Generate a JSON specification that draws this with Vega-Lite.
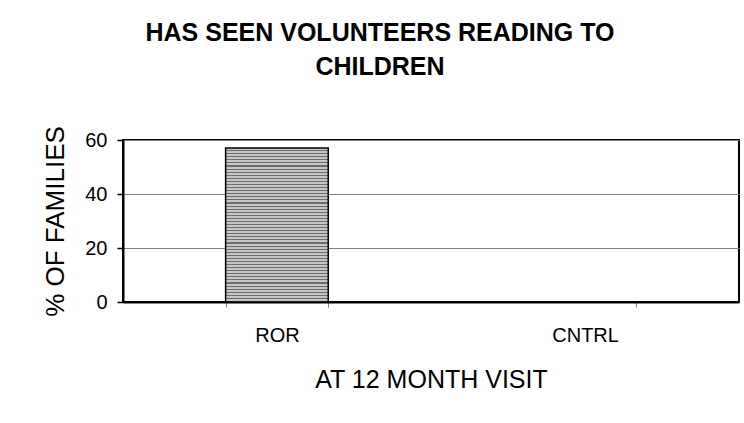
{
  "$schema": "https://vega.github.io/schema/vega-lite/v6.json",
  "width": 616,
  "height": 162,
  "autosize": {"type": "none"},
  "padding": {"left": 123, "top": 140, "right": 5, "bottom": 121},
  "background": "white",
  "config": {
    "font": "Liberation Sans",
    "view": {"stroke": "black", "strokeWidth": 2}
  },
  "title": {
    "text": ["HAS SEEN VOLUNTEERS READING TO", "CHILDREN"],
    "fontSize": 25,
    "fontWeight": "bold",
    "font": "Liberation Sans",
    "color": "black",
    "lineHeight": 34,
    "anchor": "middle",
    "dx": -51,
    "offset": 46
  },
  "data": {
    "values": [
      {"group": "ROR", "pct": 57},
      {"group": "CNTRL", "pct": 0}
    ]
  },
  "mark": {
    "type": "bar",
    "stroke": "black",
    "strokeWidth": 1.5,
    "fill": {
      "gradient": "linear", "x1": 0, "y1": 0, "x2": 0, "y2": 1,
      "stops": [
        {"offset": 0, "color": "#c6c6c6"}, {"offset": 0.013, "color": "#c6c6c6"}, {"offset": 0.013, "color": "#6c6c6c"}, {"offset": 0.02, "color": "#6c6c6c"},
        {"offset": 0.02, "color": "#c6c6c6"}, {"offset": 0.033, "color": "#c6c6c6"}, {"offset": 0.033, "color": "#6c6c6c"}, {"offset": 0.04, "color": "#6c6c6c"},
        {"offset": 0.04, "color": "#c6c6c6"}, {"offset": 0.053, "color": "#c6c6c6"}, {"offset": 0.053, "color": "#6c6c6c"}, {"offset": 0.06, "color": "#6c6c6c"},
        {"offset": 0.06, "color": "#c6c6c6"}, {"offset": 0.073, "color": "#c6c6c6"}, {"offset": 0.073, "color": "#6c6c6c"}, {"offset": 0.08, "color": "#6c6c6c"},
        {"offset": 0.08, "color": "#c6c6c6"}, {"offset": 0.093, "color": "#c6c6c6"}, {"offset": 0.093, "color": "#6c6c6c"}, {"offset": 0.1, "color": "#6c6c6c"},
        {"offset": 0.1, "color": "#c6c6c6"}, {"offset": 0.113, "color": "#c6c6c6"}, {"offset": 0.113, "color": "#6c6c6c"}, {"offset": 0.12, "color": "#6c6c6c"},
        {"offset": 0.12, "color": "#c6c6c6"}, {"offset": 0.133, "color": "#c6c6c6"}, {"offset": 0.133, "color": "#6c6c6c"}, {"offset": 0.14, "color": "#6c6c6c"},
        {"offset": 0.14, "color": "#c6c6c6"}, {"offset": 0.153, "color": "#c6c6c6"}, {"offset": 0.153, "color": "#6c6c6c"}, {"offset": 0.16, "color": "#6c6c6c"},
        {"offset": 0.16, "color": "#c6c6c6"}, {"offset": 0.173, "color": "#c6c6c6"}, {"offset": 0.173, "color": "#6c6c6c"}, {"offset": 0.18, "color": "#6c6c6c"},
        {"offset": 0.18, "color": "#c6c6c6"}, {"offset": 0.193, "color": "#c6c6c6"}, {"offset": 0.193, "color": "#6c6c6c"}, {"offset": 0.2, "color": "#6c6c6c"},
        {"offset": 0.2, "color": "#c6c6c6"}, {"offset": 0.213, "color": "#c6c6c6"}, {"offset": 0.213, "color": "#6c6c6c"}, {"offset": 0.22, "color": "#6c6c6c"},
        {"offset": 0.22, "color": "#c6c6c6"}, {"offset": 0.233, "color": "#c6c6c6"}, {"offset": 0.233, "color": "#6c6c6c"}, {"offset": 0.24, "color": "#6c6c6c"},
        {"offset": 0.24, "color": "#c6c6c6"}, {"offset": 0.253, "color": "#c6c6c6"}, {"offset": 0.253, "color": "#6c6c6c"}, {"offset": 0.26, "color": "#6c6c6c"},
        {"offset": 0.26, "color": "#c6c6c6"}, {"offset": 0.273, "color": "#c6c6c6"}, {"offset": 0.273, "color": "#6c6c6c"}, {"offset": 0.28, "color": "#6c6c6c"},
        {"offset": 0.28, "color": "#c6c6c6"}, {"offset": 0.293, "color": "#c6c6c6"}, {"offset": 0.293, "color": "#6c6c6c"}, {"offset": 0.3, "color": "#6c6c6c"},
        {"offset": 0.3, "color": "#c6c6c6"}, {"offset": 0.313, "color": "#c6c6c6"}, {"offset": 0.313, "color": "#6c6c6c"}, {"offset": 0.32, "color": "#6c6c6c"},
        {"offset": 0.32, "color": "#c6c6c6"}, {"offset": 0.333, "color": "#c6c6c6"}, {"offset": 0.333, "color": "#6c6c6c"}, {"offset": 0.34, "color": "#6c6c6c"},
        {"offset": 0.34, "color": "#c6c6c6"}, {"offset": 0.353, "color": "#c6c6c6"}, {"offset": 0.353, "color": "#6c6c6c"}, {"offset": 0.36, "color": "#6c6c6c"},
        {"offset": 0.36, "color": "#c6c6c6"}, {"offset": 0.373, "color": "#c6c6c6"}, {"offset": 0.373, "color": "#6c6c6c"}, {"offset": 0.38, "color": "#6c6c6c"},
        {"offset": 0.38, "color": "#c6c6c6"}, {"offset": 0.393, "color": "#c6c6c6"}, {"offset": 0.393, "color": "#6c6c6c"}, {"offset": 0.4, "color": "#6c6c6c"},
        {"offset": 0.4, "color": "#c6c6c6"}, {"offset": 0.413, "color": "#c6c6c6"}, {"offset": 0.413, "color": "#6c6c6c"}, {"offset": 0.42, "color": "#6c6c6c"},
        {"offset": 0.42, "color": "#c6c6c6"}, {"offset": 0.433, "color": "#c6c6c6"}, {"offset": 0.433, "color": "#6c6c6c"}, {"offset": 0.44, "color": "#6c6c6c"},
        {"offset": 0.44, "color": "#c6c6c6"}, {"offset": 0.453, "color": "#c6c6c6"}, {"offset": 0.453, "color": "#6c6c6c"}, {"offset": 0.46, "color": "#6c6c6c"},
        {"offset": 0.46, "color": "#c6c6c6"}, {"offset": 0.473, "color": "#c6c6c6"}, {"offset": 0.473, "color": "#6c6c6c"}, {"offset": 0.48, "color": "#6c6c6c"},
        {"offset": 0.48, "color": "#c6c6c6"}, {"offset": 0.493, "color": "#c6c6c6"}, {"offset": 0.493, "color": "#6c6c6c"}, {"offset": 0.5, "color": "#6c6c6c"},
        {"offset": 0.5, "color": "#c6c6c6"}, {"offset": 0.513, "color": "#c6c6c6"}, {"offset": 0.513, "color": "#6c6c6c"}, {"offset": 0.52, "color": "#6c6c6c"},
        {"offset": 0.52, "color": "#c6c6c6"}, {"offset": 0.533, "color": "#c6c6c6"}, {"offset": 0.533, "color": "#6c6c6c"}, {"offset": 0.54, "color": "#6c6c6c"},
        {"offset": 0.54, "color": "#c6c6c6"}, {"offset": 0.553, "color": "#c6c6c6"}, {"offset": 0.553, "color": "#6c6c6c"}, {"offset": 0.56, "color": "#6c6c6c"},
        {"offset": 0.56, "color": "#c6c6c6"}, {"offset": 0.573, "color": "#c6c6c6"}, {"offset": 0.573, "color": "#6c6c6c"}, {"offset": 0.58, "color": "#6c6c6c"},
        {"offset": 0.58, "color": "#c6c6c6"}, {"offset": 0.593, "color": "#c6c6c6"}, {"offset": 0.593, "color": "#6c6c6c"}, {"offset": 0.6, "color": "#6c6c6c"},
        {"offset": 0.6, "color": "#c6c6c6"}, {"offset": 0.613, "color": "#c6c6c6"}, {"offset": 0.613, "color": "#6c6c6c"}, {"offset": 0.62, "color": "#6c6c6c"},
        {"offset": 0.62, "color": "#c6c6c6"}, {"offset": 0.633, "color": "#c6c6c6"}, {"offset": 0.633, "color": "#6c6c6c"}, {"offset": 0.64, "color": "#6c6c6c"},
        {"offset": 0.64, "color": "#c6c6c6"}, {"offset": 0.653, "color": "#c6c6c6"}, {"offset": 0.653, "color": "#6c6c6c"}, {"offset": 0.66, "color": "#6c6c6c"},
        {"offset": 0.66, "color": "#c6c6c6"}, {"offset": 0.673, "color": "#c6c6c6"}, {"offset": 0.673, "color": "#6c6c6c"}, {"offset": 0.68, "color": "#6c6c6c"},
        {"offset": 0.68, "color": "#c6c6c6"}, {"offset": 0.693, "color": "#c6c6c6"}, {"offset": 0.693, "color": "#6c6c6c"}, {"offset": 0.7, "color": "#6c6c6c"},
        {"offset": 0.7, "color": "#c6c6c6"}, {"offset": 0.713, "color": "#c6c6c6"}, {"offset": 0.713, "color": "#6c6c6c"}, {"offset": 0.72, "color": "#6c6c6c"},
        {"offset": 0.72, "color": "#c6c6c6"}, {"offset": 0.733, "color": "#c6c6c6"}, {"offset": 0.733, "color": "#6c6c6c"}, {"offset": 0.74, "color": "#6c6c6c"},
        {"offset": 0.74, "color": "#c6c6c6"}, {"offset": 0.753, "color": "#c6c6c6"}, {"offset": 0.753, "color": "#6c6c6c"}, {"offset": 0.76, "color": "#6c6c6c"},
        {"offset": 0.76, "color": "#c6c6c6"}, {"offset": 0.773, "color": "#c6c6c6"}, {"offset": 0.773, "color": "#6c6c6c"}, {"offset": 0.78, "color": "#6c6c6c"},
        {"offset": 0.78, "color": "#c6c6c6"}, {"offset": 0.793, "color": "#c6c6c6"}, {"offset": 0.793, "color": "#6c6c6c"}, {"offset": 0.8, "color": "#6c6c6c"},
        {"offset": 0.8, "color": "#c6c6c6"}, {"offset": 0.813, "color": "#c6c6c6"}, {"offset": 0.813, "color": "#6c6c6c"}, {"offset": 0.82, "color": "#6c6c6c"},
        {"offset": 0.82, "color": "#c6c6c6"}, {"offset": 0.833, "color": "#c6c6c6"}, {"offset": 0.833, "color": "#6c6c6c"}, {"offset": 0.84, "color": "#6c6c6c"},
        {"offset": 0.84, "color": "#c6c6c6"}, {"offset": 0.853, "color": "#c6c6c6"}, {"offset": 0.853, "color": "#6c6c6c"}, {"offset": 0.86, "color": "#6c6c6c"},
        {"offset": 0.86, "color": "#c6c6c6"}, {"offset": 0.873, "color": "#c6c6c6"}, {"offset": 0.873, "color": "#6c6c6c"}, {"offset": 0.88, "color": "#6c6c6c"},
        {"offset": 0.88, "color": "#c6c6c6"}, {"offset": 0.893, "color": "#c6c6c6"}, {"offset": 0.893, "color": "#6c6c6c"}, {"offset": 0.9, "color": "#6c6c6c"},
        {"offset": 0.9, "color": "#c6c6c6"}, {"offset": 0.913, "color": "#c6c6c6"}, {"offset": 0.913, "color": "#6c6c6c"}, {"offset": 0.92, "color": "#6c6c6c"},
        {"offset": 0.92, "color": "#c6c6c6"}, {"offset": 0.933, "color": "#c6c6c6"}, {"offset": 0.933, "color": "#6c6c6c"}, {"offset": 0.94, "color": "#6c6c6c"},
        {"offset": 0.94, "color": "#c6c6c6"}, {"offset": 0.953, "color": "#c6c6c6"}, {"offset": 0.953, "color": "#6c6c6c"}, {"offset": 0.96, "color": "#6c6c6c"},
        {"offset": 0.96, "color": "#c6c6c6"}, {"offset": 0.973, "color": "#c6c6c6"}, {"offset": 0.973, "color": "#6c6c6c"}, {"offset": 0.98, "color": "#6c6c6c"},
        {"offset": 0.98, "color": "#c6c6c6"}, {"offset": 0.993, "color": "#c6c6c6"}, {"offset": 0.993, "color": "#6c6c6c"}, {"offset": 1, "color": "#6c6c6c"}
      ]
    }
  },
  "encoding": {
    "x": {
      "field": "group",
      "type": "nominal",
      "sort": ["ROR", "CNTRL"],
      "scale": {"paddingInner": 0.667, "paddingOuter": 0.333},
      "axis": {
        "title": "AT 12 MONTH VISIT",
        "titleFontSize": 25,
        "titleFontWeight": "normal",
        "titleColor": "black",
        "titlePadding": 22,
        "labelAngle": 0,
        "labelFontSize": 20,
        "labelColor": "black",
        "labelPadding": 18,
        "tickBand": "extent",
        "tickColor": "#808080",
        "tickSize": 5,
        "tickWidth": 1,
        "domainColor": "black",
        "domainWidth": 2
      }
    },
    "y": {
      "field": "pct",
      "type": "quantitative",
      "scale": {"domain": [0, 60], "nice": false},
      "axis": {
        "title": "% OF FAMILIES",
        "titleFontSize": 26,
        "titleFontWeight": "normal",
        "titleColor": "black",
        "titlePadding": 16,
        "values": [0, 20, 40, 60],
        "labelFontSize": 20,
        "labelColor": "black",
        "labelPadding": 10,
        "tickColor": "black",
        "tickSize": 6,
        "tickWidth": 1.5,
        "domainColor": "black",
        "domainWidth": 2,
        "grid": true,
        "gridColor": "#808080",
        "gridWidth": 1
      }
    }
  }
}
